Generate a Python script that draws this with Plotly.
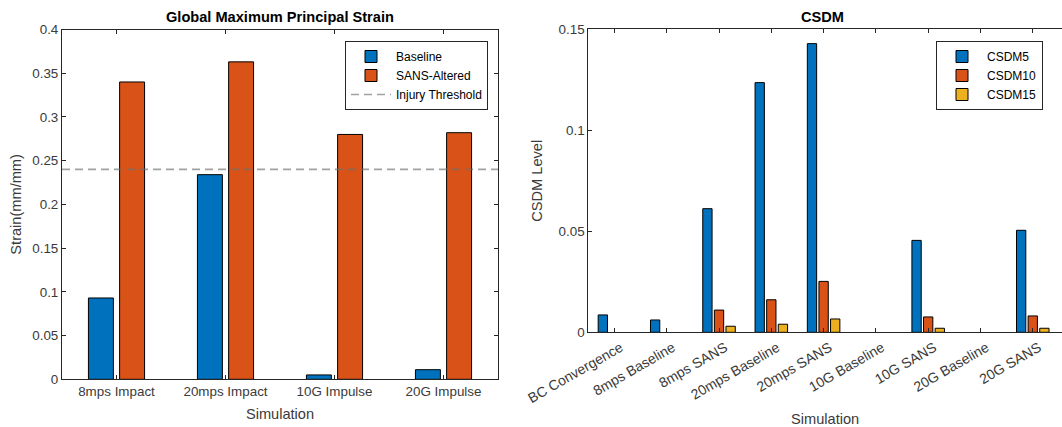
import plotly.graph_objects as go

# ---------------- data ----------------
left_categories = ["8mps Impact", "20mps Impact", "10G Impulse", "20G Impulse"]
baseline_strain = [0.093, 0.234, 0.005, 0.011]
sans_strain = [0.340, 0.363, 0.280, 0.282]
injury_threshold = 0.24

right_categories = ["BC Convergence", "8mps Baseline", "8mps SANS", "20mps Baseline",
                    "20mps SANS", "10G Baseline", "10G SANS", "20G Baseline", "20G SANS"]
csdm5 = [0.0086, 0.0061, 0.0612, 0.1236, 0.1429, 0.0, 0.0455, 0.0, 0.0505]
csdm10 = [0.0, 0.0, 0.0110, 0.0161, 0.0252, 0.0, 0.0076, 0.0, 0.0081]
csdm15 = [0.0, 0.0, 0.0030, 0.0040, 0.0066, 0.0, 0.0020, 0.0, 0.0020]

# ---------------- style ----------------
BLUE = "#0072BD"
ORANGE = "#D95319"
YELLOW = "#EDB120"
AX = "#262626"
TXT = "#3a3a3a"
FONT = "Liberation Sans, Arial, Helvetica, sans-serif"
W, H = 1062, 427

left_x = list(range(1, len(left_categories) + 1))
right_x = list(range(1, len(right_categories) + 1))

# MATLAB-like grouped bar geometry
w2 = 0.229
off2 = [-0.143 - w2 / 2, 0.143 - w2 / 2]
w3 = 0.178
off3 = [-0.222 - w3 / 2, -w3 / 2, 0.222 - w3 / 2]

edge = dict(color="#000000", width=1)


def nz(vals):
    # zero-height bars are not drawn (no outline sliver on the axis, as in MATLAB)
    return [v if v > 0 else None for v in vals]


fig = go.Figure()

fig.add_trace(go.Bar(x=left_x, y=nz(baseline_strain), name="Baseline",
                     marker=dict(color=BLUE, line=edge),
                     width=w2, offset=off2[0], xaxis="x", yaxis="y", legend="legend"))
fig.add_trace(go.Bar(x=left_x, y=nz(sans_strain), name="SANS-Altered",
                     marker=dict(color=ORANGE, line=edge),
                     width=w2, offset=off2[1], xaxis="x", yaxis="y", legend="legend"))
fig.add_trace(go.Scatter(x=[0.5, len(left_categories) + 0.5], y=[injury_threshold, injury_threshold],
                         mode="lines", name="Injury Threshold",
                         line=dict(color="rgba(110,110,110,0.65)", width=1.7, dash="8px,5px"),
                         xaxis="x", yaxis="y", legend="legend", hoverinfo="skip"))

for vals, nm, col, off in [(csdm5, "CSDM5", BLUE, off3[0]), (csdm10, "CSDM10", ORANGE, off3[1]),
                           (csdm15, "CSDM15", YELLOW, off3[2])]:
    fig.add_trace(go.Bar(x=right_x, y=nz(vals), name=nm, marker=dict(color=col, line=edge),
                         width=w3, offset=off, xaxis="x2", yaxis="y2", legend="legend2"))

tickfont = dict(family=FONT, size=13.4, color=TXT)
titlefont = dict(family=FONT, size=14.6, color=TXT)

common_axis = dict(showline=True, linecolor=AX, linewidth=1, ticks="inside", ticklen=4,
                   tickcolor=AX, tickwidth=1, showgrid=False, zeroline=False, tickfont=tickfont,
                   automargin=False)

px = lambda v: v / W
py = lambda v: 1 - v / H

fig.update_layout(
    width=W, height=H,
    margin=dict(l=0, r=0, t=0, b=0),
    paper_bgcolor="white", plot_bgcolor="white",
    barmode="overlay",
    font=dict(family=FONT, color=TXT),
    xaxis=dict(domain=[px(62), px(498)], anchor="y", range=[0.5, 4.5], mirror="ticks",
               tickmode="array", tickvals=left_x, ticktext=left_categories,
               title=dict(text="Simulation", font=titlefont, standoff=10), **common_axis),
    yaxis=dict(domain=[py(379.3), py(29.5)], anchor="x", range=[0, 0.4], dtick=0.05, mirror="ticks",
               title=dict(text="Strain(mm/mm)", font=titlefont, standoff=7), **common_axis),
    xaxis2=dict(domain=[px(588.3), 1.0], anchor="y2", range=[0.5, 0.5 + (W - 588.3) / 52.29], mirror="ticks",
                tickmode="array", tickvals=right_x, ticktext=right_categories, tickangle=-30,
                ticklabelshift=6, ticklabelstandoff=1,
                title=dict(text="Simulation", font=titlefont, standoff=12), **common_axis),
    yaxis2=dict(domain=[py(332.3), py(29.3)], anchor="x2", range=[0, 0.15], dtick=0.05, mirror=False,
                title=dict(text="CSDM Level", font=titlefont, standoff=12), **common_axis),
    legend=dict(x=px(488), y=py(41), xanchor="right", yanchor="top", bgcolor="white",
                bordercolor=AX, borderwidth=1, font=dict(family=FONT, size=12, color="#000"),
                tracegroupgap=0, itemwidth=40),
    legend2=dict(x=px(1043), y=py(41), xanchor="right", yanchor="top", bgcolor="white",
                 bordercolor=AX, borderwidth=1, font=dict(family=FONT, size=12, color="#000"),
                 tracegroupgap=0, itemwidth=40),
    annotations=[
        dict(text="<b>Global Maximum Principal Strain</b>", xref="paper", yref="paper",
             x=px(280), y=py(17), xanchor="center", yanchor="middle", showarrow=False,
             font=dict(family=FONT, size=14.6, color="#000")),
        dict(text="<b>CSDM</b>", xref="paper", yref="paper",
             x=px(822), y=py(17), xanchor="center", yanchor="middle", showarrow=False,
             font=dict(family=FONT, size=14.6, color="#000")),
    ],
)
fig.update_xaxes(tickfont_size=14, selector=dict(anchor="y2"))

fig.write_html("out.html")
